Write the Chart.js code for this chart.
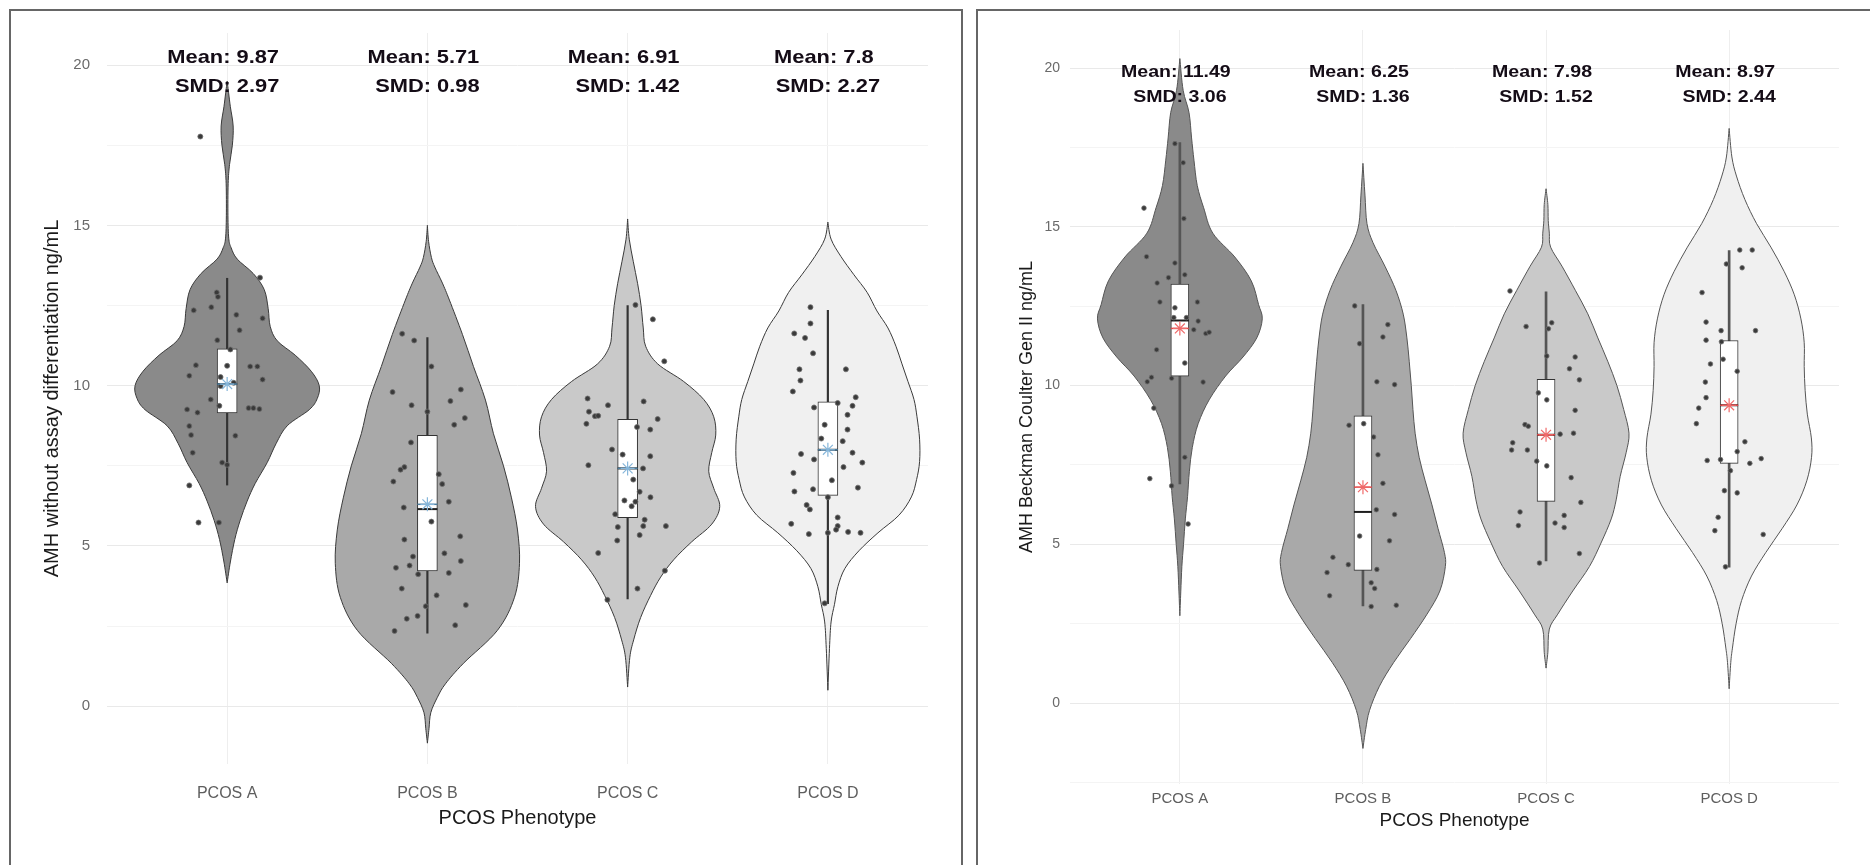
<!DOCTYPE html>
<html>
<head>
<meta charset="utf-8">
<script src="https://cdn.jsdelivr.net/npm/chart.js@4.4.1/dist/chart.umd.min.js"></script>
<style>
  html, body { margin: 0; padding: 0; background: #fff; }
  body { width: 1870px; height: 865px; position: relative; overflow: hidden; }
  canvas { position: absolute; top: 0; }
  .frame { position: absolute; border: 2px solid #666; box-sizing: border-box; pointer-events: none; }
</style>
</head>
<body>
<canvas id="leftChart" width="962" height="865" style="left:0px"></canvas>
<canvas id="rightChart" width="900" height="865" style="left:970px"></canvas>
<div class="frame" style="left:9px;top:9px;width:954px;height:900px"></div>
<div class="frame" style="left:976px;top:9px;width:950px;height:900px"></div>
<script>
const categories = ["PCOS A", "PCOS B", "PCOS C", "PCOS D"];

// ---- left panel: AMH without assay differentiation ----
const leftMeanLabel = [9.87, 5.71, 6.91, 7.8];
const leftSmdLabel = [2.97, 0.98, 1.42, 2.27];
const leftQ1 = [9.15, 4.22, 5.88, 6.58];
const leftMedian = [10.05, 6.15, 7.42, 8.0];
const leftQ3 = [11.15, 8.45, 8.95, 9.5];
const leftLow = [6.9, 2.28, 3.35, 3.2];
const leftHigh = [13.35, 11.5, 12.5, 12.35];
const leftMean = [10.05, 6.3, 7.42, 8.0];
const leftTicks = [0, 2.5, 5, 7.5, 10, 12.5, 15, 17.5, 20];

// violin outlines: [value, half width in category units]
const leftViolinA = [[19.5,0],[19.1,0.008],[18.7,0.016],[18.1,0.03],[17.5,0.026],[16.9,0.012],[16.3,0.005],[15.3,0.004],[14.6,0.008],[14.3,0.02],[13.95,0.05],[13.5,0.13],[13.0,0.185],[12.4,0.205],[11.85,0.215],[11.4,0.25],[10.95,0.34],[10.45,0.42],[10.0,0.46],[9.6,0.45],[9.25,0.41],[8.75,0.3],[8.2,0.245],[7.6,0.2],[6.95,0.14],[6.4,0.1],[5.8,0.065],[5.2,0.038],[4.5,0.016],[3.85,0]];
const leftViolinB = [[15.0,0],[14.5,0.006],[14.0,0.02],[13.7,0.037],[13.2,0.075],[12.67,0.11],[11.6,0.175],[10.6,0.23],[9.55,0.29],[8.5,0.33],[7.5,0.38],[6.5,0.42],[5.5,0.45],[4.46,0.46],[3.4,0.435],[2.37,0.35],[1.34,0.18],[0.7,0.09],[0.28,0.05],[-0.2,0.017],[-0.7,0.008],[-1.15,0]];
const leftViolinC = [[15.2,0],[14.57,0.008],[13.88,0.028],[13.18,0.05],[12.5,0.067],[11.8,0.078],[11.23,0.09],[10.68,0.15],[10.13,0.28],[9.57,0.38],[9.03,0.43],[8.46,0.44],[7.91,0.42],[7.33,0.405],[6.8,0.43],[6.23,0.46],[5.68,0.42],[5.13,0.32],[4.57,0.23],[4.03,0.165],[3.46,0.115],[2.77,0.065],[2.07,0.03],[1.53,0.011],[0.6,0]];
const leftViolinD = [[15.1,0],[14.57,0.016],[14.03,0.065],[13.46,0.13],[12.91,0.196],[12.33,0.245],[11.8,0.3],[11.23,0.34],[10.68,0.37],[10.13,0.4],[9.57,0.43],[9.03,0.445],[8.33,0.458],[7.63,0.458],[7.07,0.443],[6.53,0.417],[5.96,0.355],[5.41,0.25],[4.85,0.155],[4.3,0.085],[3.73,0.05],[3.18,0.033],[2.63,0.016],[1.8,0.008],[0.5,0]];

// jittered observations: [offset from category, value]
const leftPointsA = [[-0.134,17.77],[0.164,13.37],[-0.052,12.91],[-0.046,12.77],[-0.167,12.35],[-0.079,12.45],[0.046,12.21],[0.177,12.1],[0.062,11.73],[-0.049,11.42],[0.016,11.13],[-0.156,10.64],[-0.189,10.31],[0.115,10.6],[0.151,10.6],[0.177,10.19],[0.033,10.09],[-0.033,9.99],[-0.082,9.57],[-0.039,9.37],[-0.2,9.26],[-0.148,9.16],[0.107,9.3],[0.131,9.3],[0.161,9.27],[-0.189,8.74],[-0.18,8.46],[0.041,8.44],[-0.172,7.91],[-0.025,7.6],[0,7.53],[-0.189,6.89],[-0.143,5.73],[-0.041,5.73],[-0.033,10.27],[0,10.62]];
const leftPointsB = [[-0.126,11.62],[-0.066,11.41],[0.02,10.6],[-0.174,9.8],[0.167,9.88],[-0.079,9.39],[0.115,9.52],[0.187,8.99],[0.134,8.78],[0,9.19],[-0.082,8.23],[-0.115,7.46],[-0.134,7.38],[-0.17,7.01],[0.057,7.24],[0.074,6.93],[0.107,6.38],[-0.118,6.2],[0.02,5.76],[-0.115,5.2],[0.164,5.3],[0.085,4.77],[-0.072,4.67],[-0.089,4.39],[-0.157,4.32],[-0.046,4.12],[0.167,4.53],[0.107,4.16],[-0.128,3.67],[0.046,3.46],[-0.008,3.12],[0.192,3.16],[-0.103,2.73],[-0.049,2.82],[0.139,2.53],[-0.164,2.35]];
const leftPointsC = [[0.039,12.52],[0.126,12.07],[0.183,10.76],[-0.2,9.6],[-0.098,9.39],[0.08,9.51],[-0.193,9.19],[-0.163,9.05],[-0.147,9.06],[-0.206,8.81],[0.15,8.96],[0.113,8.63],[0.047,8.71],[-0.078,8.01],[0.113,7.8],[-0.196,7.52],[-0.025,7.85],[0.077,7.42],[0.028,7.07],[0.06,6.69],[0.114,6.52],[-0.016,6.42],[0.039,6.38],[0.02,6.24],[-0.062,5.99],[0.085,5.82],[-0.049,5.59],[0.078,5.62],[0.191,5.62],[0.06,5.34],[-0.052,5.17],[-0.147,4.78],[0.186,4.23],[0.049,3.67],[-0.101,3.32]];
const leftPointsD = [[-0.087,12.45],[-0.087,11.94],[-0.168,11.63],[-0.114,11.49],[-0.074,11.01],[-0.142,10.51],[0.09,10.51],[-0.137,10.16],[-0.175,9.82],[-0.069,9.32],[0.049,9.46],[0.139,9.64],[0.123,9.37],[-0.016,8.78],[0.098,9.09],[0.098,8.63],[-0.033,8.35],[0.074,8.27],[-0.134,7.87],[0.123,7.91],[0.172,7.6],[-0.069,7.7],[0.078,7.46],[-0.172,7.28],[0.02,7.05],[-0.074,6.77],[-0.167,6.7],[0.15,6.82],[-0.106,6.28],[-0.09,6.14],[0,6.52],[0.049,5.89],[-0.183,5.69],[0.049,5.62],[-0.095,5.37],[0,5.41],[0.041,5.51],[0.101,5.44],[0.163,5.41],[-0.016,3.21]];

// ---- right panel: AMH Beckman Coulter Gen II ----
const rightMeanLabel = [11.49, 6.25, 7.98, 8.97];
const rightSmdLabel = [3.06, 1.36, 1.52, 2.44];
const rightQ1 = [10.3, 4.18, 6.35, 7.55];
const rightMedian = [12.05, 6.02, 8.45, 9.38];
const rightQ3 = [13.2, 9.05, 10.2, 11.42];
const rightLow = [6.9, 3.06, 4.48, 4.28];
const rightHigh = [17.65, 12.55, 12.95, 14.25];
const rightMean = [11.8, 6.8, 8.45, 9.38];
const rightTicks = [-2.5, 0, 2.5, 5, 7.5, 10, 12.5, 15, 17.5, 20];

const rightViolinA = [[20.3,0],[19.3,0.018],[18.6,0.05],[17.8,0.064],[17.1,0.077],[16.3,0.095],[15.6,0.13],[14.8,0.18],[14.05,0.3],[13.3,0.39],[12.55,0.43],[12.1,0.45],[11.5,0.42],[10.9,0.345],[10.3,0.25],[9.55,0.16],[8.8,0.1],[8.05,0.068],[7.3,0.052],[6.5,0.042],[5.8,0.03],[5.0,0.02],[4.3,0.011],[3.5,0.005],[2.75,0]];
const rightViolinB = [[17.0,0],[16.0,0.011],[15.1,0.022],[14.5,0.055],[13.76,0.12],[13.0,0.18],[12.25,0.22],[11.5,0.24],[10.75,0.253],[10.0,0.264],[9.25,0.273],[8.5,0.285],[7.74,0.307],[7.0,0.34],[6.24,0.377],[5.5,0.41],[4.74,0.445],[4.3,0.45],[3.53,0.42],[2.8,0.35],[2.03,0.26],[1.28,0.168],[0.53,0.09],[-0.23,0.036],[-0.83,0.015],[-1.43,0]];
const rightViolinC = [[16.2,0],[15.7,0.01],[15.2,0.012],[14.8,0.018],[14.36,0.025],[13.76,0.087],[13.0,0.16],[12.26,0.228],[11.5,0.283],[10.75,0.338],[10.0,0.387],[9.25,0.424],[8.5,0.453],[7.9,0.438],[7.14,0.405],[6.4,0.383],[5.8,0.356],[5.04,0.3],[4.3,0.237],[3.53,0.146],[2.8,0.064],[2.33,0.018],[1.6,0.01],[1.1,0]];
const rightViolinD = [[18.1,0],[17.2,0.015],[16.6,0.04],[15.86,0.086],[15.1,0.15],[14.36,0.228],[13.6,0.3],[12.86,0.356],[12.1,0.392],[11.35,0.41],[10.6,0.41],[9.85,0.415],[9.1,0.427],[8.35,0.449],[7.74,0.45],[7.0,0.424],[6.24,0.37],[5.5,0.29],[4.74,0.2],[4.0,0.122],[3.23,0.068],[2.5,0.038],[1.73,0.018],[1.28,0.009],[0.45,0]];

const rightPointsA = [[-0.027,17.62],[0.018,17.02],[-0.196,15.59],[0.022,15.26],[-0.182,14.06],[-0.027,13.86],[-0.124,13.23],[-0.062,13.4],[0.027,13.49],[-0.109,12.63],[0.096,12.63],[-0.027,12.45],[-0.033,12.14],[0.036,12.14],[0.1,12.03],[0.076,11.76],[0.142,11.64],[0.16,11.68],[-0.127,11.13],[0.027,10.71],[-0.178,10.12],[-0.155,10.26],[-0.045,10.23],[0.127,10.11],[-0.142,9.29],[0.027,7.74],[-0.164,7.07],[-0.045,6.84],[0.045,5.64]];
const rightPointsB = [[-0.045,12.51],[0.136,11.92],[0.109,11.53],[-0.018,11.32],[0.076,10.12],[0.173,10.03],[-0.076,8.75],[0.004,8.8],[0.058,8.38],[0.082,7.82],[0.109,6.92],[0.073,6.09],[0.173,5.94],[0.145,5.11],[-0.018,5.26],[-0.164,4.59],[-0.08,4.36],[-0.196,4.11],[0.076,4.21],[0.045,3.79],[0.064,3.61],[-0.182,3.38],[0.045,3.04],[0.182,3.08]];
const rightPointsC = [[-0.197,12.98],[-0.109,11.86],[0.031,11.98],[0.013,11.79],[0.004,10.93],[0.159,10.9],[0.128,10.53],[0.182,10.18],[-0.042,9.77],[0.004,9.55],[0.159,9.22],[-0.115,8.77],[-0.097,8.72],[0.077,8.47],[0.15,8.5],[-0.182,8.2],[-0.188,7.97],[-0.102,7.97],[-0.051,7.62],[0.004,7.47],[0.137,7.1],[0.19,6.32],[-0.142,6.02],[-0.151,5.59],[0.049,5.67],[0.099,5.91],[0.099,5.53],[0.182,4.71],[-0.036,4.41]];
const rightPointsD = [[0.058,14.27],[0.126,14.27],[-0.015,13.83],[0.071,13.71],[-0.148,12.93],[-0.126,12.0],[-0.044,11.73],[0.144,11.73],[-0.126,11.43],[-0.042,11.38],[-0.033,10.83],[-0.102,10.68],[0.044,10.45],[-0.13,10.11],[-0.126,9.62],[-0.166,9.29],[-0.179,8.8],[0.086,8.23],[0.044,7.92],[-0.12,7.64],[-0.047,7.67],[0.113,7.55],[0.175,7.7],[0.007,7.32],[-0.026,6.69],[0.044,6.62],[-0.06,5.85],[-0.078,5.43],[0.186,5.31],[-0.02,4.29]];

const violinFills = ["#8a8a8a", "#a9a9a9", "#c9c9c9", "#f0f0f0"];
const FONT = '"Liberation Sans", Arial, sans-serif';

// smooth curve through points (catmull-rom as bezier)
function curveThrough(ctx, pts) {
    for (let i = 0; i < pts.length - 1; i++) {
        const p0 = pts[Math.max(i - 1, 0)], p1 = pts[i], p2 = pts[i + 1], p3 = pts[Math.min(i + 2, pts.length - 1)];
        ctx.bezierCurveTo(p1.x + (p2.x - p0.x) / 6, p1.y + (p2.y - p0.y) / 6,
                          p2.x - (p3.x - p1.x) / 6, p2.y - (p3.y - p1.y) / 6, p2.x, p2.y);
    }
}

function violinPlugin(violins, stroke) {
    return {
        id: "violins",
        beforeDatasetsDraw(chart) {
            const { ctx, scales: { x, y } } = chart;
            ctx.save();
            violins.forEach((prof, i) => {
                const c = i + 1;
                const right = prof.map(([v, w]) => ({ x: x.getPixelForValue(c + w), y: y.getPixelForValue(v) }));
                const left = prof.map(([v, w]) => ({ x: x.getPixelForValue(c - w), y: y.getPixelForValue(v) })).reverse();
                ctx.beginPath();
                ctx.moveTo(right[0].x, right[0].y);
                curveThrough(ctx, right);
                curveThrough(ctx, left);
                ctx.closePath();
                ctx.fillStyle = violinFills[i];
                ctx.fill();
                ctx.lineWidth = 1;
                ctx.strokeStyle = stroke;
                ctx.stroke();
            });
            ctx.restore();
        }
    };
}

function labelPlugin(means, smds, o) {
    return {
        id: "statLabels",
        afterDraw(chart) {
            const { ctx, scales: { x, y } } = chart;
            ctx.save();
            ctx.font = "bold " + o.size + "px " + FONT;
            ctx.fillStyle = "#140c16";
            ctx.textAlign = "center";
            ctx.textBaseline = "middle";
            const put = (txt, px, py) => {
                ctx.save();
                ctx.translate(px, py);
                ctx.scale(o.stretch, 1);
                ctx.fillText(txt, 0, 0);
                ctx.restore();
            };
            means.forEach((m, i) => {
                const cx = x.getPixelForValue(i + 1);
                put("Mean: " + m, cx + o.meanShift, y.getPixelForValue(o.meanY));
                put("SMD: " + smds[i], cx + o.smdShift, y.getPixelForValue(o.smdY));
            });
            ctx.restore();
        }
    };
}

function makePanel(id, p) {
    const pts = [];
    p.points.forEach((grp, i) => grp.forEach(([dx, v]) => pts.push({ x: i + 1 + dx, y: v })));
    const at = arr => arr.map((v, i) => ({ x: i + 1, y: v }));

    return new Chart(document.getElementById(id), {
        type: "scatter",
        data: {
            datasets: [
                { type: "bar", label: "whisker", data: categories.map((c, i) => ({ x: i + 1, y: [p.low[i], p.high[i]] })),
                  backgroundColor: p.whiskerColor, borderWidth: 0, barThickness: p.whiskerWidth, grouped: false, order: 6 },
                { type: "bar", label: "box", data: categories.map((c, i) => ({ x: i + 1, y: [p.q1[i], p.q3[i]] })),
                  backgroundColor: "#ffffff", borderColor: "#333333", borderWidth: 1, borderSkipped: false,
                  barThickness: p.boxWidth, grouped: false, order: 5 },
                { label: "median", data: at(p.median), pointStyle: "line", pointRadius: p.boxWidth / 2,
                  pointBorderColor: "#1d1d1d", pointBorderWidth: 2, order: 4 },
                { label: "obs", data: pts, pointRadius: p.dot, pointBackgroundColor: "#3a3a3a",
                  pointBorderColor: "#6e6e6e", pointBorderWidth: 0.8, order: 3 },
                { label: "meanbar", data: at(p.mean), pointStyle: "line", pointRadius: p.boxWidth / 2,
                  pointBorderColor: p.meanBar, pointBorderWidth: 1.5, order: 2 },
                { label: "mean", data: at(p.mean), pointStyle: "star", pointRadius: 7,
                  pointBorderColor: p.meanColor, pointBorderWidth: 1.2, order: 1 }
            ]
        },
        options: {
            responsive: false,
            animation: false,
            devicePixelRatio: 1,
            events: [],
            layout: { padding: { top: p.padTop, right: p.padRight, left: 0, bottom: 0 } },
            plugins: { legend: { display: false }, tooltip: { enabled: false } },
            scales: {
                x: {
                    type: "linear", min: 0.4, max: p.xMax, offset: false,
                    afterBuildTicks: s => { s.ticks = categories.map((c, i) => ({ value: i + 1 })); },
                    afterFit: s => { s.height = p.xAxisH; },
                    border: { display: false },
                    grid: { color: "#eeeeee", drawTicks: false, offset: false },
                    ticks: { callback: v => categories[v - 1] || "", padding: p.xTickPad, color: "#5e5e5e",
                             font: { family: FONT, size: p.xTickSize }, maxRotation: 0, autoSkip: false },
                    title: { display: true, text: "PCOS Phenotype", color: "#1a1a1a",
                             font: { family: FONT, size: p.xTitleSize }, padding: { top: 0, bottom: p.xTitlePad } }
                },
                y: {
                    type: "linear", min: p.yMin, max: p.yMax,
                    afterBuildTicks: s => { s.ticks = p.ticks.map(v => ({ value: v })); },
                    afterFit: s => { s.width = p.yAxisW; },
                    border: { display: false },
                    grid: { color: c => (c.tick && c.tick.value % 5 === 0) ? "#e9e9e9" : "#f4f4f4", drawTicks: false },
                    ticks: { callback: v => (v % 5 === 0 ? String(v) : ""), padding: p.yTickPad, color: "#6a6a6a",
                             font: { family: FONT, size: p.yTickSize } },
                    title: { display: true, text: p.yTitle, color: "#1a1a1a",
                             font: { family: FONT, size: p.yTitleSize }, padding: { top: p.yTitlePad, bottom: 0 } }
                }
            }
        },
        plugins: [violinPlugin(p.violins, p.outline), labelPlugin(p.meanLabels, p.smdLabels, p.label)]
    });
}

makePanel("leftChart", {
    q1: leftQ1, q3: leftQ3, median: leftMedian, low: leftLow, high: leftHigh, mean: leftMean,
    violins: [leftViolinA, leftViolinB, leftViolinC, leftViolinD],
    points: [leftPointsA, leftPointsB, leftPointsC, leftPointsD],
    meanLabels: leftMeanLabel, smdLabels: leftSmdLabel, ticks: leftTicks,
    yTitle: "AMH without assay differentiation ng/mL",
    xMax: 4.5, yMin: -1.8, yMax: 21, padTop: 33, padRight: 34, xAxisH: 101, yAxisW: 107,
    xTickPad: 20, xTickSize: 16, xTitleSize: 20, xTitlePad: 35,
    yTickPad: 17, yTickSize: 15, yTitleSize: 20, yTitlePad: 40,
    boxWidth: 20, whiskerWidth: 1.5, whiskerColor: "#333333", dot: 2.5, outline: "#3a3a3a",
    meanColor: "#86b6da", meanBar: "#4f7f9f",
    label: { size: 19, stretch: 1.15, meanY: 20.22, smdY: 19.31, meanShift: -4, smdShift: 0 }
});

makePanel("rightChart", {
    q1: rightQ1, q3: rightQ3, median: rightMedian, low: rightLow, high: rightHigh, mean: rightMean,
    violins: [rightViolinA, rightViolinB, rightViolinC, rightViolinD],
    points: [rightPointsA, rightPointsB, rightPointsC, rightPointsD],
    meanLabels: rightMeanLabel, smdLabels: rightSmdLabel, ticks: rightTicks,
    yTitle: "AMH Beckman Coulter Gen II ng/mL",
    xMax: 4.6, yMin: -2.55, yMax: 21.2, padTop: 30, padRight: 31, xAxisH: 81, yAxisW: 100,
    xTickPad: 6, xTickSize: 15, xTitleSize: 19, xTitlePad: 33,
    yTickPad: 10, yTickSize: 14, yTitleSize: 18, yTitlePad: 46,
    boxWidth: 18, whiskerWidth: 2, whiskerColor: "#555555", dot: 2.3, outline: "#555555",
    meanColor: "#f06a6a", meanBar: "#e04848",
    label: { size: 17, stretch: 1.15, meanY: 19.87, smdY: 19.09, meanShift: -4, smdShift: 0 }
});
</script>
</body>
</html>
